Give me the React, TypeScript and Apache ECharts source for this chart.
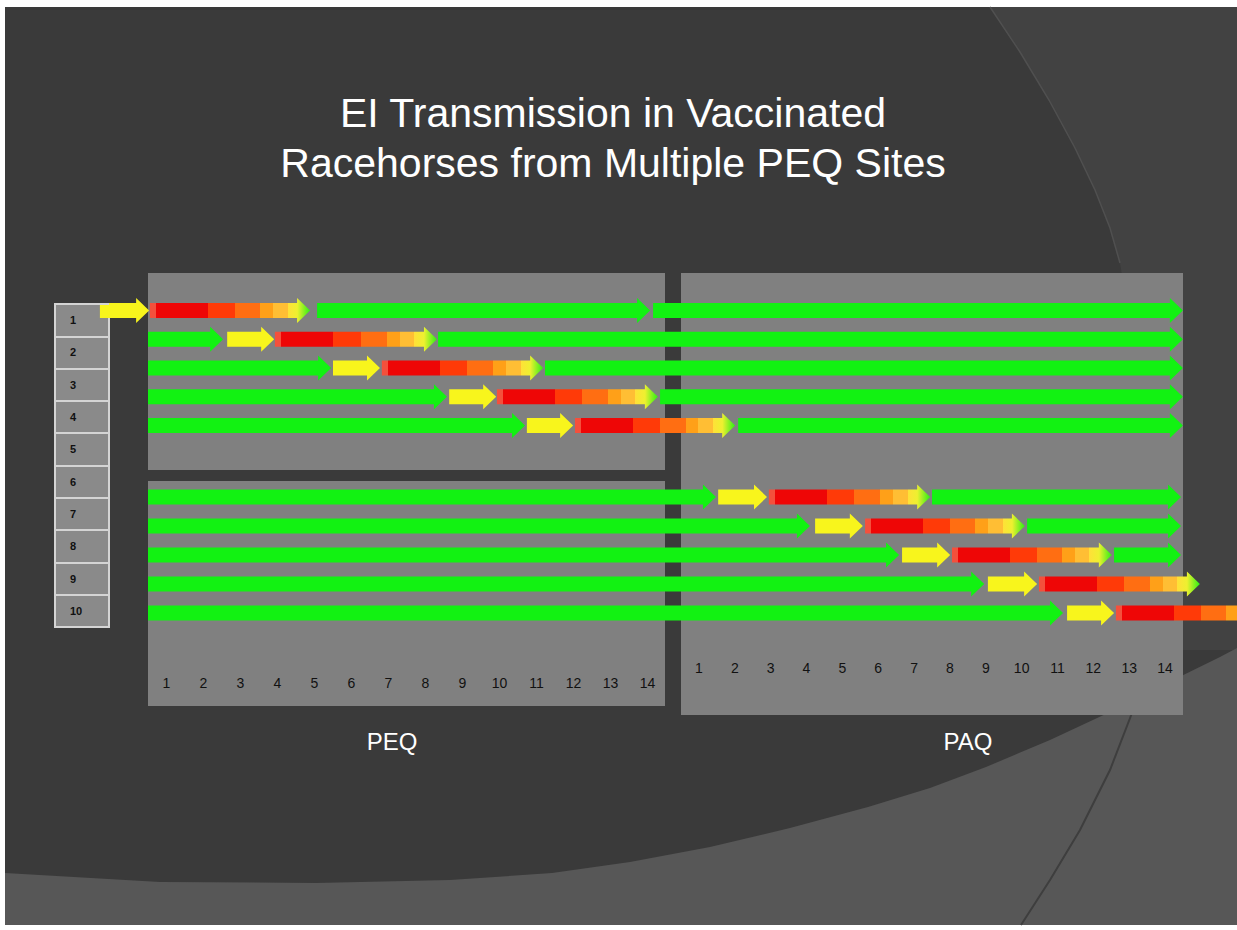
import React, { useEffect, useRef } from "react";
import * as echarts from "echarts";

// ---------- data ----------
const horses = ["1", "2", "3", "4", "5", "6", "7", "8", "9", "10"];
const peqDays = ["1", "2", "3", "4", "5", "6", "7", "8", "9", "10", "11", "12", "13", "14"];
const paqDays = ["1", "2", "3", "4", "5", "6", "7", "8", "9", "10", "11", "12", "13", "14"];

// Timeline positions, in PEQ-day units (continuing past PEQ day 14 into PAQ)
const preGreenStart = [null, 0.5, 0.5, 0.5, 0.5, 0.5, 0.5, 0.5, 0.5, 0.5];
const preGreenEnd = [null, 2.53, 5.45, 8.58, 10.69, 15.85, 18.39, 20.8, 23.1, 25.23];
const exposedStart = [-0.8, 2.64, 5.5, 8.64, 10.74, 15.91, 18.53, 20.88, 23.2, 25.34];
const exposedEnd = [0.53, 3.91, 6.77, 9.91, 11.99, 17.23, 19.82, 22.18, 24.53, 26.61];
const infectiousStart = [0.55, 3.93, 6.82, 9.93, 12.04, 17.28, 19.88, 22.23, 24.58, 26.66];
const recoveredAt = [4.88, 8.31, 11.18, 14.28, 16.37, 21.64, 24.2, 26.55, 28.93, 30.99];
const postGreenStart = [5.07, 8.34, 11.23, 14.34, 16.45, 21.69, 24.26, 26.61, null, null];
const postGreenEnd = [14.07, 28.47, 28.47, 28.47, 28.47, 28.42, 28.42, 28.42, null, null];
const horse1SecondGreen = [14.15, 28.47];

// ---------- styles ----------
const GREEN = "#12f212";
const YELLOW = "#f8f51c";
const infectiousStops = [
  [0, "#f4503c"], [0.04, "#f4503c"],
  [0.04, "#ee0606"], [0.36, "#ee0606"],
  [0.36, "#ff3a08"], [0.53, "#ff3a08"],
  [0.53, "#ff6e12"], [0.69, "#ff6e12"],
  [0.69, "#ffa018"], [0.77, "#ffa018"],
  [0.77, "#ffbe34"], [0.86, "#ffbe34"],
  [0.86, "#ffe038"], [0.92, "#eef030"],
  [1, "#2cf014"],
];

// kind: 0 healthy (green), 1 exposed (yellow), 2 infectious (gradient)
type Seg = [number, number, number, number];
function buildSegments(): Seg[] {
  const segs: Seg[] = [];
  for (let i = 0; i < horses.length; i++) {
    if (preGreenStart[i] != null) segs.push([i, preGreenStart[i] as number, preGreenEnd[i] as number, 0]);
    segs.push([i, exposedStart[i], exposedEnd[i], 1]);
    segs.push([i, infectiousStart[i], recoveredAt[i], 2]);
    if (postGreenStart[i] != null) segs.push([i, postGreenStart[i] as number, postGreenEnd[i] as number, 0]);
  }
  segs.push([0, horse1SecondGreen[0], horse1SecondGreen[1], 0]);
  return segs;
}

export default function App() {
  const ref = useRef<HTMLDivElement>(null);

  useEffect(() => {
    if (!ref.current) return;
    const chart = echarts.init(ref.current, null, { renderer: "svg" });
    const segs = buildSegments();
    const groupA = segs.filter((s) => s[0] < 5);
    const groupB = segs.filter((s) => s[0] >= 5).map((s) => [s[0] - 5, s[1], s[2], s[3]]);

    const renderArrow = (params: any, api: any) => {
      const row = api.value(0);
      const s = api.coord([api.value(1), row]);
      const e = api.coord([api.value(2), row]);
      const kind = api.value(3);
      const x0 = s[0];
      const x1 = e[0];
      const yc = s[1];
      const h = 7.5;
      const H = 12.5;
      const L = Math.min(13, x1 - x0);
      const points = [
        [x0, yc - h],
        [x1 - L, yc - h],
        [x1 - L, yc - H],
        [x1, yc],
        [x1 - L, yc + H],
        [x1 - L, yc + h],
        [x0, yc + h],
      ];
      let fill: any = GREEN;
      if (kind === 1) fill = YELLOW;
      if (kind === 2)
        fill = new echarts.graphic.LinearGradient(
          0, 0, 1, 0,
          infectiousStops.map(([o, c]) => ({ offset: o as number, color: c as string }))
        );
      return { type: "polygon", shape: { points }, style: { fill } };
    };

    const bottomCurve = [
      [5, 873], [160, 882], [316, 883], [450, 880], [552, 873], [630, 862], [710, 847],
      [790, 828], [868, 807], [930, 788], [986, 767], [1050, 740], [1110, 712],
      [1165, 684], [1220, 657], [1237, 648],
    ];
    const topCurve = [[990, 7], [1020, 52], [1049, 100], [1075, 148], [1095, 190], [1110, 228], [1120, 263]];

    const option: any = {
      animation: false,
      title: {
        text: "EI Transmission in Vaccinated\nRacehorses from Multiple PEQ Sites",
        left: 608,
        top: 83,
        textAlign: "center",
        textStyle: {
          color: "#ffffff",
          fontSize: 41,
          fontWeight: "normal",
          fontFamily: "Liberation Sans, Arial, sans-serif",
          lineHeight: 50,
        },
      },
      graphic: [
        { type: "rect", z: -10, shape: { x: 5, y: 7, width: 1232, height: 918 }, style: { fill: "#3a3a3a" } },
        {
          type: "polygon", z: -9,
          shape: { points: [...topCurve, [1150, 450], [1170, 650], [1237, 650], [1237, 7]] },
          style: { fill: "#424242" },
        },
        { type: "polyline", z: -9, shape: { points: topCurve }, style: { stroke: "#505050", lineWidth: 1.5, fill: null } },
        {
          type: "polygon", z: -8,
          shape: { points: [...bottomCurve, [1237, 925], [5, 925]] },
          style: { fill: "#575757" },
        },
        {
          type: "polyline", z: -7,
          shape: { points: [[1132, 713], [1110, 770], [1080, 830], [1050, 880], [1021, 925]] },
          style: { stroke: "#3e3e3e", lineWidth: 2, fill: null },
        },
        { type: "rect", z: -6, shape: { x: 148, y: 273, width: 517, height: 197 }, style: { fill: "#808080" } },
        { type: "rect", z: -6, shape: { x: 148, y: 481, width: 517, height: 225 }, style: { fill: "#808080" } },
        { type: "rect", z: -6, shape: { x: 681, y: 273, width: 502, height: 442 }, style: { fill: "#808080" } },
        {
          type: "text", z: 5, x: 392, y: 741,
          style: { text: "PEQ", fill: "#ffffff", font: "24px Liberation Sans, Arial, sans-serif", textAlign: "center", textVerticalAlign: "middle" },
        },
        {
          type: "text", z: 5, x: 968, y: 741,
          style: { text: "PAQ", fill: "#ffffff", font: "24px Liberation Sans, Arial, sans-serif", textAlign: "center", textVerticalAlign: "middle" },
        },
      ],
      grid: [
        { left: 148, width: 518, top: 296, height: 144 },
        { left: 148, width: 518, top: 482.5, height: 145 },
        { left: 681, width: 502, top: 482.5, height: 145 },
        {
          left: 55, width: 54, top: 304, height: 323, show: true, z: 1,
          backgroundColor: "#8a8a8a", borderColor: "#d4d4d4", borderWidth: 2,
        },
      ],
      xAxis: [
        { type: "value", gridIndex: 0, min: 0.5, max: 14.5, show: false },
        { type: "value", gridIndex: 1, min: 0.5, max: 14.5, show: false, position: "top" },
        {
          type: "category", gridIndex: 1, data: peqDays, position: "bottom",
          axisLine: { show: false }, axisTick: { show: false }, splitLine: { show: false },
          axisLabel: { interval: 0, margin: 48, color: "#111", fontSize: 14, fontFamily: "Liberation Sans, Arial, sans-serif" },
        },
        {
          type: "category", gridIndex: 2, data: paqDays, position: "bottom",
          axisLine: { show: false }, axisTick: { show: false }, splitLine: { show: false },
          axisLabel: { interval: 0, margin: 33, color: "#111", fontSize: 14, fontFamily: "Liberation Sans, Arial, sans-serif" },
        },
        { type: "value", gridIndex: 3, min: 0, max: 1, show: false },
      ],
      yAxis: [
        { type: "category", gridIndex: 0, data: horses.slice(0, 5), inverse: true, show: false },
        { type: "category", gridIndex: 1, data: horses.slice(5), inverse: true, show: false },
        { type: "value", gridIndex: 2, min: 0, max: 1, show: false },
        {
          type: "category", gridIndex: 3, data: horses, inverse: true, z: 3,
          axisLine: { show: false }, axisTick: { show: false },
          splitLine: { show: true, lineStyle: { color: "#d4d4d4", width: 2 } },
          axisLabel: {
            inside: true, margin: 15, color: "#111", fontSize: 11, fontWeight: "bold",
            fontFamily: "Liberation Sans, Arial, sans-serif",
          },
        },
      ],
      series: [
        {
          type: "custom", name: "Horses 1-5", xAxisIndex: 0, yAxisIndex: 0, clip: false, silent: true,
          encode: { x: [1, 2], y: 0 }, renderItem: renderArrow, data: groupA,
        },
        {
          type: "custom", name: "Horses 6-10", xAxisIndex: 1, yAxisIndex: 1, clip: false, silent: true,
          encode: { x: [1, 2], y: 0 }, renderItem: renderArrow, data: groupB,
        },
      ],
    };
    chart.setOption(option);
    return () => chart.dispose();
  }, []);

  return (
    <div
      ref={ref}
      style={{ position: "fixed", left: 0, top: 0, width: 1237, height: 930, background: "#ffffff" }}
    />
  );
}
